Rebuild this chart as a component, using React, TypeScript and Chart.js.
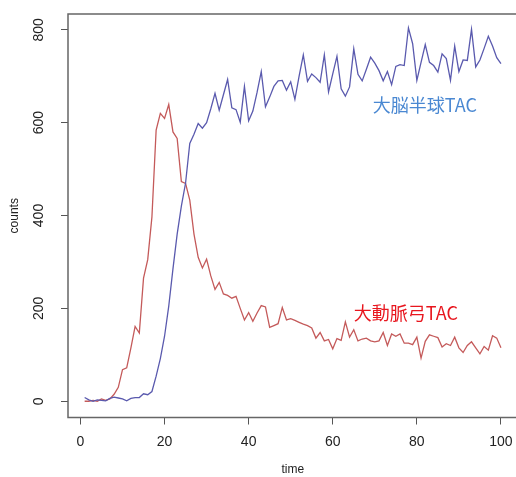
import React, { useEffect, useRef } from "react";
import { Chart, registerables } from "chart.js";

Chart.register(...registerables);

const time: number[] = Array.from({ length: 100 }, (_, i) => i + 1);

const brainTAC: number[] = [
  8, 3, 0, 3, 2, 1, 6, 9, 7, 5,
  1, 6, 8, 8, 16, 14, 21, 54, 92, 140,
  205, 285, 360, 420, 470, 555, 575, 598, 588, 600,
  630, 663, 627, 660, 693, 632, 628, 601, 678, 604,
  625, 665, 710, 634, 655, 678, 690, 691, 670, 688,
  650, 700, 746, 689, 705, 697, 687, 746, 666, 705,
  743, 673, 657, 677, 759, 704, 690, 715, 741, 728,
  712, 690, 710, 682, 721, 725, 723, 804, 770, 691,
  730, 768, 730, 723, 709, 748, 738, 691, 765, 710,
  735, 734, 801, 720, 735, 760, 786, 765, 740, 727,
];

const aortaTAC: number[] = [
  0, 0, 2, 0, 5, 2, 5, 15, 30, 68,
  72, 115, 161, 147, 265, 305, 397, 584, 620, 609,
  639, 580, 566, 473, 469, 433, 360, 310, 287, 306,
  270, 241, 256, 231, 228, 222, 226, 200, 175, 191,
  172, 190, 206, 203, 159, 163, 167, 202, 175, 178,
  174, 170, 166, 163, 158, 136, 148, 130, 133, 113,
  135, 131, 171, 138, 154, 130, 134, 136, 130, 128,
  130, 148, 120, 145, 140, 145, 125, 125, 122, 138,
  93, 129, 143, 140, 137, 117, 124, 120, 138, 115,
  105, 120, 128, 115, 102, 118, 110, 141, 136, 115,
];

const xTicks: number[] = [0, 20, 40, 60, 80, 100];
const yTicks: number[] = [0, 200, 400, 600, 800];

const brainLabel = "大脳半球TAC";
const aortaLabel = "大動脈弓TAC";
const xTitle = "time";
const yTitle = "counts";

const CW = 530;
const CH = 477;

export default function App() {
  const ref = useRef<HTMLCanvasElement | null>(null);

  useEffect(() => {
    const canvas = ref.current;
    if (!canvas) return;
    document.body.style.overflow = "hidden";

    const textPlugin = {
      id: "rtext",
      afterDraw(chart: any) {
        const ctx = chart.ctx;
        const ca = chart.chartArea;
        const xs = chart.scales.x;
        const ys = chart.scales.y;
        ctx.save();
        // box
        ctx.strokeStyle = "#666";
        ctx.lineWidth = 1.5;
        ctx.strokeRect(ca.left, ca.top, ca.right - ca.left, ca.bottom - ca.top);

        ctx.fillStyle = "#222";
        ctx.font = "14px 'Liberation Sans', Arial, sans-serif";
        ctx.textAlign = "center";
        ctx.textBaseline = "middle";
        xTicks.forEach((v) => {
          ctx.fillText(String(v), xs.getPixelForValue(v), 442);
        });
        yTicks.forEach((v) => {
          ctx.save();
          ctx.translate(39.5, ys.getPixelForValue(v));
          ctx.rotate(-Math.PI / 2);
          ctx.fillText(String(v), 0, 0);
          ctx.restore();
        });
        ctx.font = "12px 'Liberation Sans', Arial, sans-serif";
        ctx.fillText(xTitle, (ca.left + ca.right) / 2, 470);
        ctx.save();
        ctx.translate(15, (ca.top + ca.bottom) / 2);
        ctx.rotate(-Math.PI / 2);
        ctx.fillText(yTitle, 0, 0);
        ctx.restore();

        ctx.font = "18px 'Noto Sans CJK JP', 'Noto Sans', sans-serif";
        ctx.textAlign = "left";
        ctx.fillStyle = "#4a88d2";
        ctx.fillText(brainLabel, xs.getPixelForValue(69.5), ys.getPixelForValue(638));
        ctx.fillStyle = "#e8161e";
        ctx.fillText(aortaLabel, xs.getPixelForValue(65), ys.getPixelForValue(189.5));
        ctx.restore();
      },
    };

    const chart = new Chart(canvas, {
      type: "line",
      data: {
        datasets: [
          {
            label: "brain",
            data: time.map((t, i) => ({ x: t, y: brainTAC[i] })),
            borderColor: "#5a5aae",
            borderWidth: 1.3,
            pointRadius: 0,
            tension: 0,
            fill: false,
          },
          {
            label: "aorta",
            data: time.map((t, i) => ({ x: t, y: aortaTAC[i] })),
            borderColor: "#c45a5a",
            borderWidth: 1.3,
            pointRadius: 0,
            tension: 0,
            fill: false,
          },
        ],
      },
      options: {
        responsive: false,
        animation: false,
        devicePixelRatio: 1,
        layout: { padding: { left: 61, top: 14, right: 12.4, bottom: 52.5 } },
        plugins: { legend: { display: false }, tooltip: { enabled: false } },
        scales: {
          x: {
            type: "linear",
            min: -2.96,
            max: 103.96,
            afterBuildTicks: (s: any) => {
              s.ticks = xTicks.map((v) => ({ value: v }));
            },
            ticks: { display: false },
            border: { display: false },
            grid: {
              drawOnChartArea: false,
              drawTicks: true,
              tickLength: 7,
              color: "#555",
              lineWidth: 1,
            },
          },
          y: {
            type: "linear",
            min: -35,
            max: 834,
            afterBuildTicks: (s: any) => {
              s.ticks = yTicks.map((v) => ({ value: v }));
            },
            ticks: { display: false },
            border: { display: false },
            grid: {
              drawOnChartArea: false,
              drawTicks: true,
              tickLength: 7,
              color: "#555",
              lineWidth: 1,
            },
          },
        },
      },
      plugins: [textPlugin],
    } as any);

    return () => chart.destroy();
  }, []);

  return (
    <canvas
      ref={ref}
      width={CW}
      height={CH}
      style={{ position: "fixed", left: 0, top: 0, width: CW, height: CH }}
    />
  );
}
